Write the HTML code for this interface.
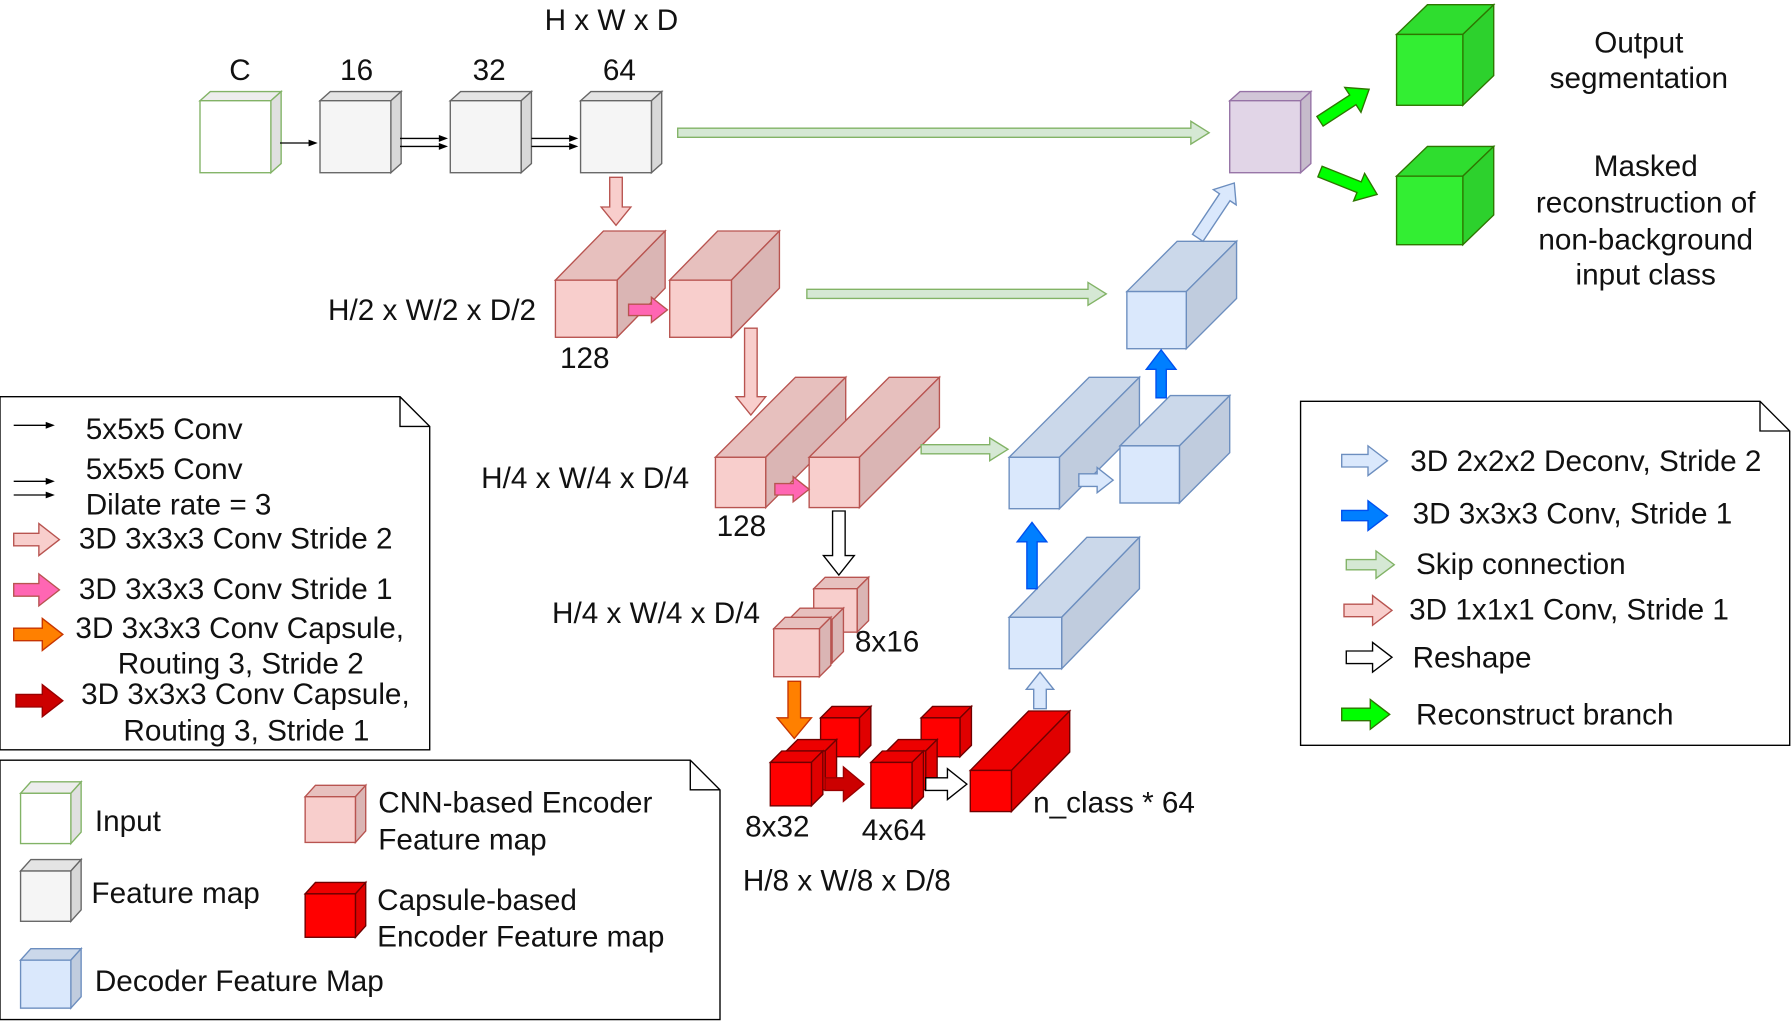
<!DOCTYPE html>
<html><head><meta charset="utf-8"><style>
html,body{margin:0;padding:0;background:#fff}
svg{display:block}
text{font-family:"Liberation Sans",Arial,sans-serif;font-size:26px;fill:#111}
</style></head><body>
<svg id="s" width="1792" height="1022" viewBox="0 0 1568 894" xmlns="http://www.w3.org/2000/svg">
<g id="shapes"></g>
<g id="labels">
<text x="535" y="26" text-anchor="middle">H x W x D</text>
<text x="210" y="70" text-anchor="middle">C</text>
<text x="312" y="70" text-anchor="middle">16</text>
<text x="428" y="70" text-anchor="middle">32</text>
<text x="542" y="70" text-anchor="middle">64</text>
<text x="1434" y="46" text-anchor="middle">Output</text>
<text x="1434" y="77" text-anchor="middle">segmentation</text>
<text x="1440" y="154" text-anchor="middle">Masked</text>
<text x="1440" y="186" text-anchor="middle">reconstruction of</text>
<text x="1440" y="218" text-anchor="middle">non-background</text>
<text x="1440" y="249" text-anchor="middle">input class</text>
<text x="287" y="280">H/2 x W/2 x D/2</text>
<text x="490" y="322">128</text>
<text x="421" y="427">H/4 x W/4 x D/4</text>
<text x="627" y="469">128</text>
<text x="483" y="545">H/4 x W/4 x D/4</text>
<text x="748" y="570">8x16</text>
<text x="652" y="732">8x32</text>
<text x="754" y="735">4x64</text>
<text x="904" y="711">n_class * 64</text>
<text x="650" y="779">H/8 x W/8 x D/8</text>
<text x="75" y="384">5x5x5 Conv</text>
<text x="75" y="419">5x5x5 Conv</text>
<text x="75" y="450">Dilate rate = 3</text>
<text x="69" y="480">3D 3x3x3 Conv Stride 2</text>
<text x="69" y="524">3D 3x3x3 Conv Stride 1</text>
<text x="66" y="558">3D 3x3x3 Conv Capsule,</text>
<text x="103" y="589">Routing 3, Stride 2</text>
<text x="71" y="616">3D 3x3x3 Conv Capsule,</text>
<text x="108" y="648">Routing 3, Stride 1</text>
<text x="83" y="727">Input</text>
<text x="80" y="790">Feature map</text>
<text x="83" y="867">Decoder Feature Map</text>
<text x="331" y="711">CNN-based Encoder</text>
<text x="331" y="743">Feature map</text>
<text x="330" y="796">Capsule-based</text>
<text x="330" y="828">Encoder Feature map</text>
<text x="1234" y="412">3D 2x2x2 Deconv, Stride 2</text>
<text x="1236" y="458">3D 3x3x3 Conv, Stride 1</text>
<text x="1239" y="502">Skip connection</text>
<text x="1233" y="542">3D 1x1x1 Conv, Stride 1</text>
<text x="1236" y="584">Reshape</text>
<text x="1239" y="634">Reconstruct branch</text>
</g>
</svg>
<script>
const g=document.getElementById('shapes');const NS='http://www.w3.org/2000/svg';
function el(t,a){const e=document.createElementNS(NS,t);for(const k in a)e.setAttribute(k,a[k]);g.appendChild(e);return e;}
function shade(c,f){const n=parseInt(c.slice(1),16);let r=(n>>16)&255,gg=(n>>8)&255,b=n&255;return 'rgb('+Math.round(r*f)+','+Math.round(gg*f)+','+Math.round(b*f)+')';}
function cube(x,y,w,h,dx,dy,fill,stroke){
 el('polygon',{points:`${x},${y} ${x+dx},${y-dy} ${x+w+dx},${y-dy} ${x+w},${y}`,fill:shade(fill,0.93),stroke,'stroke-width':1.2});
 el('polygon',{points:`${x+w},${y} ${x+w+dx},${y-dy} ${x+w+dx},${y+h-dy} ${x+w},${y+h}`,fill:shade(fill,0.88),stroke,'stroke-width':1.2});
 el('rect',{x,y,width:w,height:h,fill,stroke,'stroke-width':1.2});}
function arrow(x1,y1,x2,y2,sw,hw,hl,fill,stroke){
 const L=Math.hypot(x2-x1,y2-y1),ux=(x2-x1)/L,uy=(y2-y1)/L,px=-uy,py=ux;const bx=x2-ux*hl,by=y2-uy*hl;
 const p=[[x1+px*sw/2,y1+py*sw/2],[bx+px*sw/2,by+py*sw/2],[bx+px*hw/2,by+py*hw/2],[x2,y2],[bx-px*hw/2,by-py*hw/2],[bx-px*sw/2,by-py*sw/2],[x1-px*sw/2,y1-py*sw/2]];
 el('polygon',{points:p.map(q=>q.join(',')).join(' '),fill,stroke,'stroke-width':1.2});}
function line(x1,y1,x2,y2){el('line',{x1,y1,x2:x2-6,y2,stroke:'#000','stroke-width':1.2});el('polygon',{points:`${x2},${y2} ${x2-8},${y2-3} ${x2-8},${y2+3}`,fill:'#000'});}
function note(x,y,w,h,f){el('path',{d:`M${x},${y} H${x+w-f} L${x+w},${y+f} V${y+h} H${x} Z M${x+w-f},${y} V${y+f} H${x+w}`,fill:'#fff',stroke:'#000','stroke-width':1.2});}
const W='#ffffff',G='#d5e8d4',GS='#82b366',P='#f8cecc',PS='#b85450',B='#dae8fc',BS='#6c8ebf',R='#ff0000',RS='#6f0000';
note(0,347,376,309,26);note(0,665,630,227,26);note(1138,351,428,301,26);
cube(175,88,62,63,9,8,W,GS);
[280,394,508].forEach(x=>cube(x,88,62,63,9,8,'#f5f5f5','#666'));
cube(1076,88,62,63,9,8,'#e1d5e7','#9673a6');
cube(1222,30,58,62,27,26,'#33ee33','#2d7600');cube(1222,154,58,60,27,26,'#33ee33','#2d7600');
line(245,125,278,125);line(350,121,392,121);line(350,128,392,128);line(465,121,506,121);line(465,128,506,128);
cube(486,245,54,50,42,43,P,PS);cube(586,245,54,50,42,43,P,PS);
cube(626,400,44,44,70,70,P,PS);cube(708,400,44,44,70,70,P,PS);
cube(712,515,38,38,10,10,P,PS);cube(690,542,38,38,10,10,P,PS);cube(677,550,40,42,10,10,P,PS);
cube(986,255,52,50,44,44,B,BS);cube(883,400,44,45,70,70,B,BS);cube(980,390,52,50,44,44,B,BS);cube(883,540,46,45,68,70,B,BS);
cube(718,628,34,34,10,10,R,RS);cube(688,657,34,34,10,10,R,RS);cube(674,667,36,38,10,10,R,RS);
cube(806,628,34,34,10,10,R,RS);cube(776,657,34,34,10,10,R,RS);cube(762,667,36,40,10,10,R,RS);
cube(849,674,36,36,51,52,R,RS);
arrow(593,116,1058,116,8,20,16,G,GS);arrow(706,257,968,257,8,20,16,G,GS);arrow(806,393,882,393,8,20,16,G,GS);
arrow(539,155,539,197,11,26,16,P,PS);arrow(657,287,657,363,11,26,16,P,PS);
arrow(550,271,584,271,10,22,14,'#ff66b3',PS);arrow(678,428,708,428,10,22,14,'#ff66b3',PS);
arrow(734,447,734,503,11,27,17,W,'#000');arrow(810,686,846,686,11,27,17,W,'#000');
arrow(695,596,695,646,11,30,18,'#ff8000','#c73500');
arrow(722,686,756,686,11,30,18,'#cc0000','#990000');
arrow(910,620,910,588,11,24,15,B,BS);arrow(944,420,974,420,11,22,14,B,BS);arrow(1048,208,1080,160,11,24,15,B,BS);
arrow(903,515,903,457,9,26,17,'#007fff','#0050ef');arrow(1016,348,1016,306,9,26,17,'#007fff','#0050ef');
arrow(1155,106,1198,78,10,26,17,'#00ff00','#2d7600');arrow(1155,150,1205,170,10,26,17,'#00ff00','#2d7600');
line(12,372,48,372);line(12,421,48,421);line(12,433,48,433);
arrow(12,472,52,472,11,28,18,P,PS);arrow(12,516,52,516,11,28,18,'#ff66b3',PS);
arrow(12,555,55,555,11,28,18,'#ff8000','#c73500');arrow(14,613,55,613,11,28,18,'#cc0000','#990000');
arrow(1174,403,1214,403,11,26,17,B,BS);arrow(1174,451,1214,451,9,26,17,'#007fff','#0050ef');
arrow(1178,494,1220,494,9,24,16,G,GS);arrow(1176,534,1218,534,11,26,17,P,PS);
arrow(1178,575,1218,575,11,26,17,W,'#000');arrow(1174,625,1216,625,11,26,17,'#00ff00','#2d7600');
cube(18,694,44,44,9,10,W,GS);cube(18,762,44,44,9,10,'#f5f5f5','#666');cube(18,840,44,42,9,10,B,BS);
cube(267,697,44,40,9,10,P,PS);cube(267,782,44,38,9,10,R,RS);
</script>
</body></html>
